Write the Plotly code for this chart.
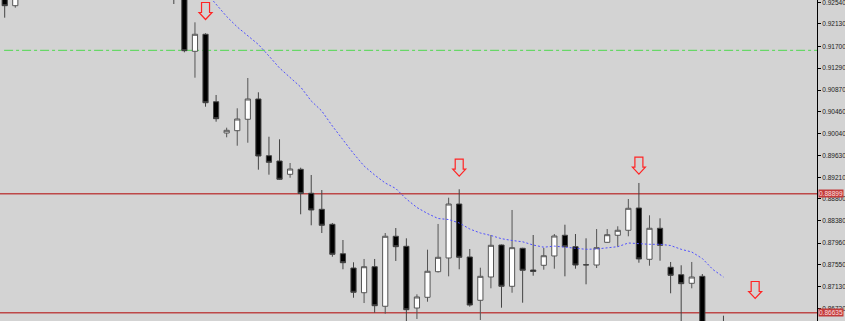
import plotly.graph_objects as go

# ---- data (prices) ----
idx = [0, 1, 16, 17, 18, 19, 20, 21, 22, 23, 24, 25, 26, 27, 28, 29, 30, 31, 32, 33,
       34, 35, 36, 37, 38, 39, 40, 41, 42, 43, 44, 45, 46, 47, 48, 49, 50, 51, 52, 53,
       54, 55, 56, 57, 58, 59, 60, 61, 62, 63, 64, 65, 66, 68]
opens = [0.92870, 0.92476, 0.93726, 0.93117, 0.91608, 0.91932, 0.90649, 0.90054, 0.90098, 0.90315,
         0.90701, 0.89622, 0.89521, 0.89268, 0.89363, 0.88907, 0.88602, 0.88317, 0.87757, 0.87485,
         0.87015, 0.87510, 0.86757, 0.88089, 0.87898, 0.86724, 0.86928, 0.87415, 0.87676, 0.88703,
         0.87695, 0.86871, 0.87314, 0.87923, 0.87137, 0.87860, 0.87447, 0.87537, 0.87714, 0.88108,
         0.87891, 0.87548, 0.87542, 0.87974, 0.88108, 0.88203, 0.88627, 0.87651, 0.88241, 0.87499,
         0.87358, 0.87194, 0.87327, 0.86240]
highs = [0.93003, 0.92927, 0.93916, 0.93193, 0.92160, 0.91951, 0.90777, 0.90155, 0.90524, 0.91100,
         0.90828, 0.89983, 0.89934, 0.89483, 0.89394, 0.89255, 0.88969, 0.88342, 0.88018, 0.87594,
         0.87657, 0.87657, 0.88151, 0.88246, 0.88050, 0.86985, 0.87834, 0.88323, 0.88823, 0.88983,
         0.87847, 0.87491, 0.88113, 0.87932, 0.88589, 0.87870, 0.88113, 0.87866, 0.88132, 0.88309,
         0.88132, 0.88050, 0.88227, 0.88227, 0.88279, 0.88798, 0.89103, 0.88488, 0.88431, 0.87600,
         0.87537, 0.87600, 0.87371, 0.86578]
lows = [0.92248, 0.92438, 0.92508, 0.91589, 0.91106, 0.90554, 0.90269, 0.89972, 0.89812, 0.89869,
        0.89356, 0.89261, 0.89160, 0.89203, 0.88507, 0.88298, 0.88151, 0.87700, 0.87461, 0.86920,
        0.86819, 0.86635, 0.86616, 0.87619, 0.86382, 0.86515, 0.86844, 0.87400, 0.87327, 0.87461,
        0.86749, 0.86496, 0.87099, 0.86730, 0.87015, 0.86825, 0.87339, 0.87453, 0.87472, 0.87327,
        0.87472, 0.87175, 0.87485, 0.87967, 0.87891, 0.88089, 0.87586, 0.87529, 0.87624, 0.87004,
        0.86211, 0.87099, 0.86020, 0.86100]
closes = [0.92476, 0.92813, 0.93117, 0.91620, 0.91932, 0.90630, 0.90326, 0.90105, 0.90320, 0.90701,
          0.89616, 0.89496, 0.89173, 0.89369, 0.88903, 0.88589, 0.88298, 0.87746, 0.87586, 0.87023,
          0.87510, 0.86768, 0.88089, 0.87891, 0.86692, 0.86934, 0.87423, 0.87689, 0.88703, 0.87689,
          0.86781, 0.87327, 0.87917, 0.87137, 0.87872, 0.87442, 0.87419, 0.87719, 0.88094, 0.87891,
          0.87542, 0.87545, 0.87872, 0.88119, 0.88203, 0.88621, 0.87657, 0.88241, 0.87917, 0.87346,
          0.87187, 0.87314, 0.86211, 0.86150]

ma_idx = list(range(19, 69))
ma_vals = [0.92737, 0.92499, 0.92270, 0.92071, 0.91909, 0.91738, 0.91519, 0.91291, 0.91110, 0.90929,
           0.90663, 0.90472, 0.90187, 0.89921, 0.89664, 0.89426, 0.89255, 0.89103, 0.88998, 0.88798,
           0.88636, 0.88522, 0.88427, 0.88408, 0.88342, 0.88227, 0.88151, 0.88104, 0.88043, 0.88009,
           0.87984, 0.87923, 0.87881, 0.87902, 0.87881, 0.87856, 0.87841, 0.87847, 0.87872, 0.87891,
           0.87961, 0.87942, 0.87936, 0.87936, 0.87913, 0.87841, 0.87790, 0.87666, 0.87457, 0.87314]

resistance_level = 0.88899
support_level = 0.86635
green_level = 0.91627

arrow_idx = [19, 43, 60, 71]
arrow_price = [0.92375, 0.89394, 0.89432, 0.87067]

tick_vals = [0.92540, 0.92130, 0.91700, 0.91290, 0.90870, 0.90460, 0.90040, 0.89630,
             0.89210, 0.88800, 0.88380, 0.87960, 0.87550, 0.87130, 0.86720]
tick_text = ["0.92540", "0.92130", "0.91700", "0.91290", "0.90870", "0.90460", "0.90040", "0.89630",
             "0.89210", "0.88800", "0.88380", "0.87960", "0.87550", "0.87130", "0.86720"]

# ---- figure ----
fig = go.Figure()

fig.add_trace(go.Scatter(
    x=ma_idx, y=ma_vals, mode="lines",
    line=dict(color="#4f4fff", width=1, dash="2px,2px"),
    hoverinfo="skip", showlegend=False))

fig.add_trace(go.Candlestick(
    x=idx, open=opens, high=highs, low=lows, close=closes,
    increasing=dict(fillcolor="white", line=dict(color="#555555", width=1)),
    decreasing=dict(fillcolor="black", line=dict(color="#444444", width=1)),
    whiskerwidth=0, showlegend=False))

# hollow block arrows (pixel-sized shapes anchored at data positions)
ARROW_PATH = "M -4,8.5 L 4,8.5 L 4,-1.5 L 6.5,-1.5 L 0,-8.5 L -6.5,-1.5 L -4,-1.5 Z"
for ax_, ay_ in zip(arrow_idx, arrow_price):
    fig.add_shape(type="path", xref="x", yref="y",
                  xsizemode="pixel", ysizemode="pixel",
                  xanchor=ax_, yanchor=ay_, path=ARROW_PATH,
                  line=dict(color="#ff2424", width=1.2), fillcolor="rgba(0,0,0,0)",
                  layer="above")

for lvl in (resistance_level, support_level):
    fig.add_shape(type="line", xref="paper", x0=0, x1=1, yref="y", y0=lvl, y1=lvl,
                  line=dict(color="#bd4848", width=1.5), layer="below")
    fig.add_annotation(xref="paper", x=1, xanchor="left", yref="y", y=lvl,
                       text="%.5f" % lvl, showarrow=False, bgcolor="#c23b3b",
                       font=dict(color="#ffe0e0", size=6.5, family="Liberation Sans"),
                       borderpad=0, xshift=1)

fig.add_shape(type="line", xref="paper", x0=0.005, x1=1, yref="y", y0=green_level, y1=green_level,
              line=dict(color="#4fd84f", width=1, dash="dashdot"), layer="below")

fig.update_layout(
    width=845, height=321,
    margin=dict(l=0, r=28, t=0, b=0),
    paper_bgcolor="#d3d3d3", plot_bgcolor="#d3d3d3",
    showlegend=False,
    xaxis=dict(visible=False, range=[-0.445, 76.85], rangeslider=dict(visible=False)),
    yaxis=dict(side="right", range=[0.86477, 0.925843], tickvals=tick_vals, ticktext=tick_text,
               ticks="outside", ticklen=3, tickcolor="#000000", showline=True, linecolor="#000000",
               linewidth=1, showgrid=False, zeroline=False, ticklabeloverflow="allow",
               tickfont=dict(size=6.5, family="Liberation Sans", color="#222222")),
)

fig.write_html("out.html")
